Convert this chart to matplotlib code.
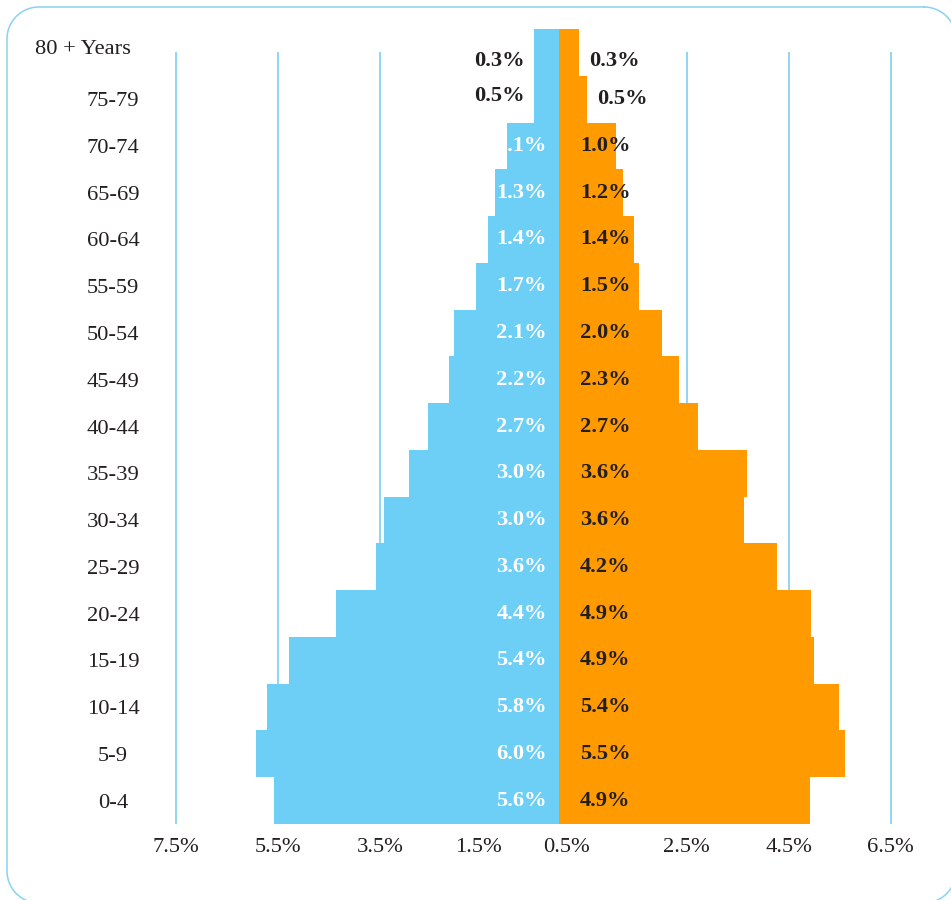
import matplotlib
matplotlib.use("Agg")
import numpy as np
import matplotlib.pyplot as plt
from matplotlib.lines import Line2D
from matplotlib.transforms import IdentityTransform, ScaledTranslation

# ---- data ----
age_groups = ['0-4', '5-9', '10-14', '15-19', '20-24', '25-29', '30-34', '35-39',
              '40-44', '45-49', '50-54', '55-59', '60-64', '65-69', '70-74', '75-79',
              '80 + Years']
male_pct = [5.58, 5.94, 5.72, 5.29, 4.37, 3.58, 3.43, 2.94, 2.57, 2.15, 2.06,
            1.63, 1.39, 1.25, 1.02, 0.49, 0.49]
female_pct = [4.92, 5.60, 5.48, 5.00, 4.94, 4.27, 3.62, 3.69, 2.72, 2.35, 2.02,
              1.57, 1.47, 1.25, 1.12, 0.55, 0.39]
male_labels = ['5.6%', '6.0%', '5.8%', '5.4%', '4.4%', '3.6%', '3.0%', '3.0%',
               '2.7%', '2.2%', '2.1%', '1.7%', '1.4%', '1.3%', '1.1%', '0.5%', '0.3%']
female_labels = ['4.9%', '5.5%', '5.4%', '4.9%', '4.9%', '4.2%', '3.6%', '3.6%',
                 '2.7%', '2.3%', '2.0%', '1.5%', '1.4%', '1.2%', '1.0%', '0.5%', '0.3%']
x_ticks = [-7.5, -5.5, -3.5, -1.5, 0.5, 2.5, 4.5, 6.5]
x_tick_labels = ['7.5%', '5.5%', '3.5%', '1.5%', '0.5%', '2.5%', '4.5%', '6.5%']
grid_x = [-7.5, -5.5, -3.5, 2.5, 4.5, 6.5]

# ---- style ----
BLUE = '#6DCFF6'
ORANGE = '#FF9A00'
GRID = '#86D3F3'
TEXT = '#231F20'
FONT = 'Liberation Serif'
FS = 16.2

plt.rcParams['font.family'] = [FONT, 'DejaVu Serif']

fig = plt.figure(figsize=(9.51, 9.0), dpi=100)
ax = fig.add_axes([0.1584, 0.08444, 0.8213, 0.8833])

y = list(range(len(age_groups)))
ax.barh(y, [-m for m in male_pct], height=1.0, color=BLUE, linewidth=0, zorder=2)
ax.barh(y, female_pct, height=1.0, color=ORANGE, linewidth=0, zorder=2)
ax.vlines(grid_x, -0.5, len(age_groups) - 1, color=GRID, lw=1.3, zorder=1)

ax.set_xlim(-8.0, 7.3)
ax.set_ylim(-0.5, len(age_groups) - 0.5)

for s in ax.spines.values():
    s.set_visible(False)

ax.set_xticks(x_ticks)
ax.set_xticklabels(x_tick_labels, fontsize=FS, color=TEXT)
ax.set_yticks(y)
ax.set_yticklabels(age_groups, fontsize=FS, color=TEXT)
ax.tick_params(axis='both', length=0)
ax.tick_params(axis='x', pad=10)
ax.tick_params(axis='y', pad=27)
for lab in ax.get_yticklabels():
    lab.set_ha('center')
top_lab = ax.get_yticklabels()[-1]
top_lab.set_transform(top_lab.get_transform() +
                      ScaledTranslation(-0.30, 0.05, fig.dpi_scale_trans))
xl = ax.get_xticklabels()
xl[4].set_transform(xl[4].get_transform() +
                    ScaledTranslation(-0.18, 0, fig.dpi_scale_trans))
xl[3].set_transform(xl[3].get_transform() +
                    ScaledTranslation(-0.04, 0, fig.dpi_scale_trans))

# ---- value labels ----
top = len(age_groups) - 1
for yi, m, f, ml, fl in zip(y, male_pct, female_pct, male_labels, female_labels):
    dy = -6 if yi == top else 0
    if m < 0.6:
        ax.annotate(ml, xy=(-m, yi), xytext=(-7, dy + (2 if yi != top else 0)),
                    textcoords='offset points', ha='right', va='center',
                    fontsize=FS, fontweight='bold', color=TEXT, zorder=3)
    else:
        ax.text(-0.24, yi, ml, ha='right', va='center', fontsize=FS,
                fontweight='bold', color='white', zorder=3)
    if f < 0.6:
        ax.annotate(fl, xy=(f, yi), xytext=(7.5, dy), textcoords='offset points',
                    ha='left', va='center', fontsize=FS, fontweight='bold',
                    color=TEXT, zorder=3)
    else:
        ax.text(0.41, yi, fl, ha='left', va='center', fontsize=FS,
                fontweight='bold', color=TEXT, zorder=3)

# ---- rounded frame as a polyline (pixel coordinates, origin bottom-left) ----
L, R, T, B, r = 7, 956, 893, -3, 32
corners = [((R - r, T - r), 90, 0), ((R - r, B + r), 0, -90),
           ((L + r, B + r), -90, -180), ((L + r, T - r), 180, 90)]
xs, ys = [], []
for (cx, cy), a0, a1 in corners:
    ang = np.radians(np.linspace(a0, a1, 25))
    xs.extend(cx + r * np.cos(ang))
    ys.extend(cy + r * np.sin(ang))
xs.append(xs[0])
ys.append(ys[0])
frame = Line2D(xs, ys, transform=IdentityTransform(), color=GRID,
               linewidth=1.1, solid_joinstyle='round')
fig.add_artist(frame)

fig.savefig('out.png', dpi=100)
